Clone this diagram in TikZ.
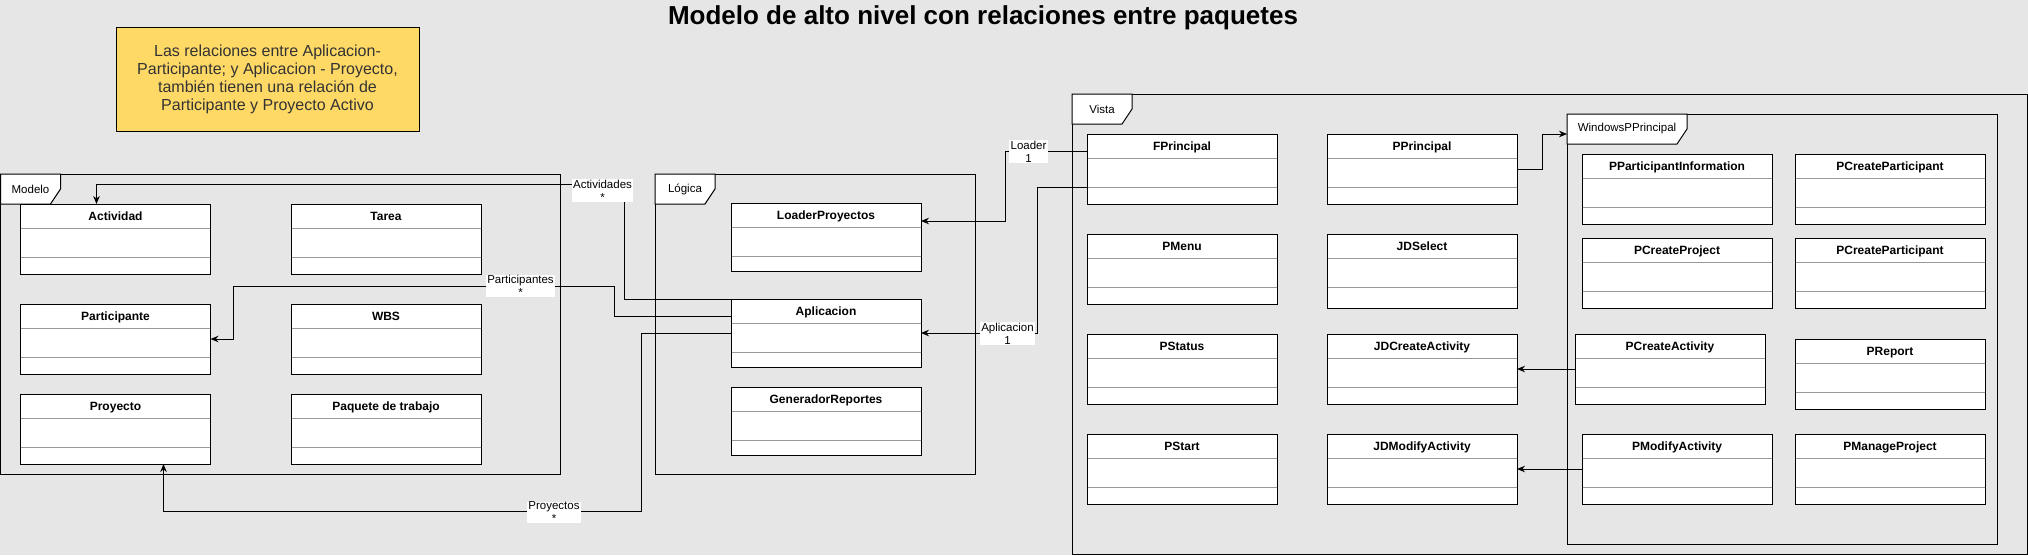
\documentclass[tikz,border=0pt]{standalone}
\usepackage{fontspec}
\setmainfont{Liberation Sans}
\usepackage{xcolor}
\usepackage{tikz}
\usetikzlibrary{positioning, arrows.meta, calc}
\definecolor{fondo}{HTML}{E6E6E6}
\definecolor{amarillo}{HTML}{FFD966}
\definecolor{divgris}{HTML}{999999}
\definecolor{textonota}{HTML}{333333}

\tikzset{
    clase/.style={draw, fill=white, line width=1pt, anchor=north west,
                  minimum width=190pt, inner sep=0pt, outer sep=0pt},
    nombre/.style={anchor=base, inner sep=0pt, font=\fontsize{12}{14}\selectfont\bfseries},
    divisor/.style={draw=divgris, line width=1pt},
    marco/.style={draw, line width=1pt, anchor=north west, inner sep=0pt, outer sep=0pt},
    pestana/.style={draw, fill=white, line width=1pt},
    etiqueta/.style={fill=white, inner xsep=1.5pt, inner ysep=0.5pt, align=center,
                     font=\fontsize{11.5}{13}\selectfont},
    conector/.style={line width=1pt, -{Stealth[length=8pt, width=6.5pt]}},
    nota/.style={draw, fill=amarillo, line width=1pt, minimum width=303pt, minimum height=104pt,
                 align=center, text=textonota, font=\fontsize{16}{18}\selectfont},
    titulo/.style={anchor=base, font=\fontsize{26}{30}\selectfont\bfseries}
}

\newcommand{\claseuml}[5][70]{%
    \node[clase, minimum height=#1pt] (#2) at (#3,#4) {};
    \node[nombre] (#2-n) at ([yshift=-16pt]#2.north) {#5};
    \draw[divisor] ([xshift=0.5pt, yshift=-24pt]#2.north west) -- ([xshift=-0.5pt, yshift=-24pt]#2.north east);
    \draw[divisor] ([xshift=0.5pt, yshift=-53pt]#2.north west) -- ([xshift=-0.5pt, yshift=-53pt]#2.north east);
}

\newcommand{\paquete}[7]{%
    \node[marco, minimum width=#4pt, minimum height=#5pt] (#1) at (#2,#3) {};
    \filldraw[pestana] (#1.north west) -- ++(#6,0) -- ++(0,15) -- ++(-10,15) -- ++({10-#6},0) -- cycle;
    \node[font=\fontsize{11.5}{13}\selectfont, inner sep=0pt] (#1-t) at ([shift={(#6/2,15)}]#1.north west) {#7};
}

\begin{document}
\begin{tikzpicture}[x=1pt, y=-1pt]
    \useasboundingbox (0,0) rectangle (2028,555);
    \fill[fondo] (0,0) rectangle (2028,555);

    \node[titulo] (titulo) at (983,24) {Modelo de alto nivel con relaciones entre paquetes};
    \node[nota] (nota) at (267.5,79) {Las relaciones entre Aplicacion-\\Participante; y Aplicacion - Proyecto,\\también tienen una relación de\\Participante y Proyecto Activo};

    \paquete{modelo}{0.5}{174}{560}{300}{60}{Modelo}
    \paquete{logica}{655}{174}{320}{300}{60}{Lógica}
    \paquete{vista}{1072}{94}{955}{460}{60}{Vista}
    \paquete{wpp}{1567}{114}{430}{430}{120}{WindowsPPrincipal}

    \claseuml{act}{20.5}{204}{Actividad}
    \claseuml{tar}{291}{204}{Tarea}
    \claseuml{part}{20.5}{304}{Participante}
    \claseuml{wbs}{291}{304}{WBS}
    \claseuml{proy}{20.5}{394}{Proyecto}
    \claseuml{paq}{291}{394}{Paquete de trabajo}

    \claseuml[68]{loader}{731}{203}{LoaderProyectos}
    \claseuml[68]{apl}{731}{299}{Aplicacion}
    \claseuml[68]{gen}{731}{387}{GeneradorReportes}

    \claseuml{fp}{1087}{134}{FPrincipal}
    \claseuml{pp}{1327}{134}{PPrincipal}
    \claseuml{pmenu}{1087}{234}{PMenu}
    \claseuml[74]{jds}{1327}{234}{JDSelect}
    \claseuml{pst}{1087}{334}{PStatus}
    \claseuml{jdca}{1327}{334}{JDCreateActivity}
    \claseuml{pstart}{1087}{434}{PStart}
    \claseuml{jdma}{1327}{434}{JDModifyActivity}

    \claseuml{ppi}{1582}{154}{PParticipantInformation}
    \claseuml{pcpa}{1795}{154}{PCreateParticipant}
    \claseuml{pcproj}{1582}{238}{PCreateProject}
    \claseuml{pcpb}{1795}{238}{PCreateParticipant}
    \claseuml{pca}{1575}{334}{PCreateActivity}
    \claseuml{prep}{1795}{339}{PReport}
    \claseuml{pma}{1582}{434}{PModifyActivity}
    \claseuml{pmp}{1795}{434}{PManageProject}

    \draw[conector] (apl.north west) -- ++(-107,0) |- ([shift={(76,-20)}]act.north west) -- ([xshift=76pt]act.north west);
    \draw[conector] ([yshift=-17pt]apl.north west) -- ++(-117,0) -- ++(0,-30) -| ([xshift=23pt]part.east) -- (part.east);
    \draw[conector] (apl.west) -- ++(-89.5,0) |- ([shift={(48,47)}]proy.south) -- ([xshift=48pt]proy.south);
    \draw[conector] ([yshift=-17pt]fp.north west) -- ++(-82,0) |- ([yshift=-18pt]loader.north east);
    \draw[conector] ([yshift=-53pt]fp.north west) -- ++(-50,0) |- (apl.east);
    \draw[conector] (pp.east) -- ++(25,0) |- ([yshift=-20pt]wpp.north west);
    \draw[conector] (pca.west) -- (jdca.east);
    \draw[conector] (pma.west) -- (jdma.east);

    \node[etiqueta] (lact) at (602.5,190.5) {Actividades\\*};
    \node[etiqueta] (lpart) at (520.5,286) {Participantes\\*};
    \node[etiqueta] (lproy) at (554,512.5) {Proyectos\\*};
    \node[etiqueta] (lload) at (1028.5,151.5) {Loader\\1};
    \node[etiqueta] (lapl) at (1007.5,333.5) {Aplicacion\\1};
\end{tikzpicture}
\end{document}
